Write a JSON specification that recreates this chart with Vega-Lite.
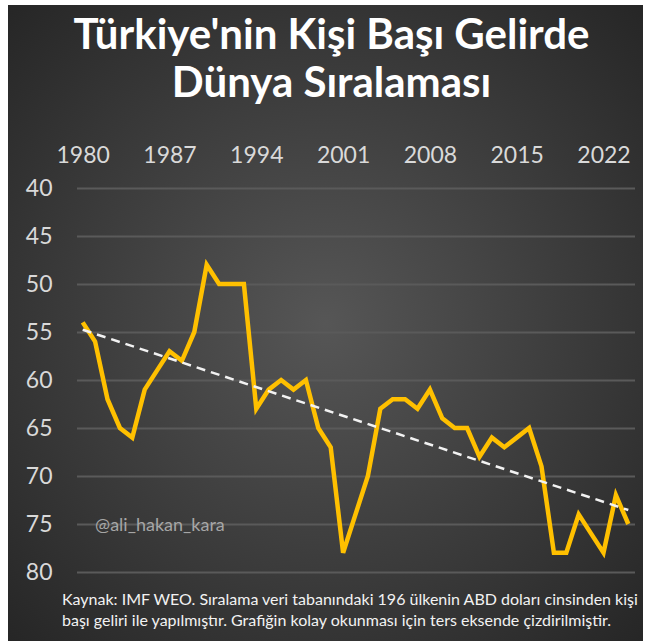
{
  "$schema": "https://vega.github.io/schema/vega-lite/v6.json",
  "width": 635,
  "height": 636,
  "autosize": "none",
  "padding": {"left": 8, "top": 5, "right": 3, "bottom": 0},
  "background": "#ffffff",
  "config": {
    "view": {
      "stroke": null,
      "fill": {
        "gradient": "radial",
        "x1": 0.5, "y1": 0.5, "r1": 0,
        "x2": 0.5, "y2": 0.5, "r2": 0.75,
        "stops": [
          {"offset": 0, "color": "#565656"},
          {"offset": 1, "color": "#232323"}
        ]
      }
    },
    "font": "Lato"
  },
  "title": {
    "text": ["Türkiye'nin Kişi Başı Gelirde", "Dünya Sıralaması"],
    "font": "Lato",
    "fontSize": 42,
    "fontWeight": "bold",
    "color": "#ffffff",
    "anchor": "middle",
    "frame": "group",
    "lineHeight": 48,
    "offset": -101,
    "dx": 6
  },
  "data": {
    "values": [
      {"year": 1980, "rank": 54}, {"year": 1981, "rank": 56}, {"year": 1982, "rank": 62},
      {"year": 1983, "rank": 65}, {"year": 1984, "rank": 66}, {"year": 1985, "rank": 61},
      {"year": 1986, "rank": 59}, {"year": 1987, "rank": 57}, {"year": 1988, "rank": 58},
      {"year": 1989, "rank": 55}, {"year": 1990, "rank": 48}, {"year": 1991, "rank": 50},
      {"year": 1992, "rank": 50}, {"year": 1993, "rank": 50}, {"year": 1994, "rank": 63},
      {"year": 1995, "rank": 61}, {"year": 1996, "rank": 60}, {"year": 1997, "rank": 61},
      {"year": 1998, "rank": 60}, {"year": 1999, "rank": 65}, {"year": 2000, "rank": 67},
      {"year": 2001, "rank": 78}, {"year": 2002, "rank": 74}, {"year": 2003, "rank": 70},
      {"year": 2004, "rank": 63}, {"year": 2005, "rank": 62}, {"year": 2006, "rank": 62},
      {"year": 2007, "rank": 63}, {"year": 2008, "rank": 61}, {"year": 2009, "rank": 64},
      {"year": 2010, "rank": 65}, {"year": 2011, "rank": 65}, {"year": 2012, "rank": 68},
      {"year": 2013, "rank": 66}, {"year": 2014, "rank": 67}, {"year": 2015, "rank": 66},
      {"year": 2016, "rank": 65}, {"year": 2017, "rank": 69}, {"year": 2018, "rank": 78},
      {"year": 2019, "rank": 78}, {"year": 2020, "rank": 74}, {"year": 2021, "rank": 76},
      {"year": 2022, "rank": 78}, {"year": 2023, "rank": 72}, {"year": 2024, "rank": 75}
    ]
  },
  "layer": [
    {
      "mark": {"type": "line", "color": "#FFC000", "strokeWidth": 4.5, "clip": false},
      "encoding": {
        "x": {
          "field": "year",
          "type": "quantitative",
          "scale": {"domain": [1979.5, 2024.5], "range": [68.5, 626.5], "nice": false, "zero": false},
          "axis": {
            "orient": "top",
            "title": null,
            "values": [1980, 1987, 1994, 2001, 2008, 2015, 2022],
            "format": "d",
            "grid": false,
            "domain": false,
            "ticks": false,
            "tickSize": 0,
            "labelPadding": 0,
            "labelBaseline": "alphabetic",
            "labelFlush": false,
            "labelOverlap": false,
            "labelBound": false,
            "labelFont": "Lato",
            "labelFontSize": 23,
            "labelColor": "#d9d9d9",
            "offset": -157
          }
        },
        "y": {
          "field": "rank",
          "type": "quantitative",
          "scale": {"domain": [40, 80], "range": [183, 567], "nice": false, "zero": false},
          "axis": {
            "orient": "left",
            "title": null,
            "values": [40, 45, 50, 55, 60, 65, 70, 75, 80],
            "grid": true,
            "gridColor": "#5a5a5a",
            "gridWidth": 2,
            "domain": false,
            "ticks": false,
            "tickSize": 0,
            "labelPadding": 0,
            "labelAlign": "right",
            "labelFlush": false,
            "labelOverlap": false,
            "labelBound": false,
            "labelFont": "Lato",
            "labelFontSize": 23,
            "labelColor": "#d9d9d9",
            "offset": -44
          }
        }
      }
    },
    {
      "transform": [{"regression": "rank", "on": "year"}],
      "mark": {"type": "line", "color": "#f2f2f2", "strokeWidth": 2.5, "strokeDash": [9, 6]},
      "encoding": {
        "x": {"field": "year", "type": "quantitative"},
        "y": {"field": "rank", "type": "quantitative"}
      }
    },
    {
      "data": {"values": [{"label": "@ali_hakan_kara"}]},
      "mark": {"type": "text", "align": "left", "baseline": "middle", "fontSize": 18, "fill": "#a6a6a6", "font": "Lato"},
      "encoding": {
        "x": {"datum": 1981.0},
        "y": {"datum": 75.2},
        "text": {"field": "label", "type": "nominal"}
      }
    },
    {
      "data": {"values": [{"label": "Kaynak: IMF WEO. Sıralama veri tabanındaki 196 ülkenin ABD doları cinsinden kişi"}, {"label": "başı geliri ile yapılmıştır. Grafiğin kolay okunması için ters eksende çizdirilmiştir."}]},
      "transform": [{"window": [{"op": "row_number", "as": "line"}]}],
      "mark": {"type": "text", "align": "left", "baseline": "middle", "fontSize": 16, "fill": "#f2f2f2", "font": "Lato"},
      "encoding": {
        "x": {"datum": 1978.33},
        "y": {"datum": 82.9},
        "yOffset": {"field": "line", "type": "ordinal", "scale": {"type": "point", "padding": 0, "range": [0, 21]}},
        "text": {"field": "label", "type": "nominal"}
      }
    }
  ]
}
